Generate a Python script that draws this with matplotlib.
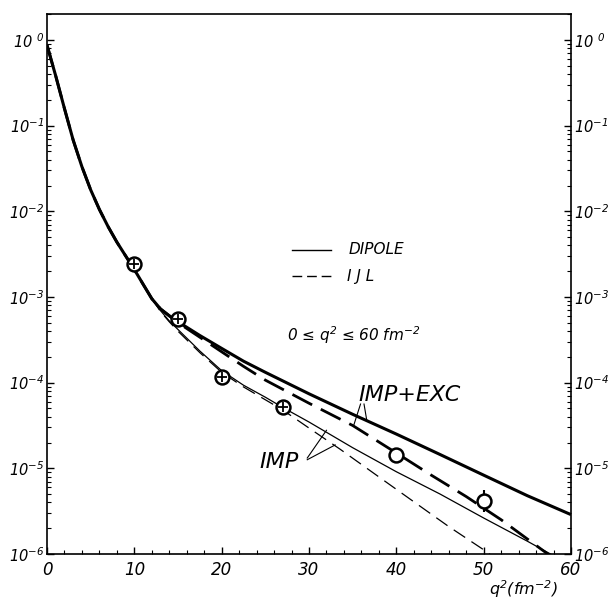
import numpy as np
import matplotlib
matplotlib.use('Agg')
import matplotlib.pyplot as plt
from matplotlib.ticker import FixedLocator, FuncFormatter, MultipleLocator

plt.rcParams['font.family'] = 'DejaVu Sans'
plt.rcParams['font.style'] = 'italic'
plt.rcParams['mathtext.fontset'] = 'custom'
plt.rcParams['mathtext.rm'] = 'DejaVu Sans:italic'
plt.rcParams['mathtext.it'] = 'DejaVu Sans:italic'
plt.rcParams['mathtext.default'] = 'rm'

# shared low-q part of all four curves
q2_common = [0, 0.5, 1, 2, 3, 4, 5, 6, 7, 8, 9, 10, 11, 12]
f_common = [0.871, 0.575, 0.380, 0.158, 0.0676, 0.0331, 0.0178, 0.0105,
            0.00661, 0.00437, 0.00302, 0.00209, 0.00141, 9.55e-4]

# DIPOLE, IMP+EXC (thick solid)
q2_dip_exc = [13, 14, 15, 17.5, 20, 22.5, 25, 30, 35, 40, 45, 50, 55, 60]
f_dip_exc = [7.24e-4, 6.03e-4, 5.13e-4, 3.55e-4, 2.51e-4, 1.78e-4, 1.32e-4,
             7.41e-5, 4.27e-5, 2.51e-5, 1.45e-5, 8.32e-6, 4.79e-6, 2.88e-6]

# IJL, IMP+EXC (thick dashed)
q2_ijl_exc = [13, 14, 15, 17.5, 20, 22.5, 25, 30, 35, 40, 44, 48, 52, 56, 58]
f_ijl_exc = [7.24e-4, 6.03e-4, 5.01e-4, 3.39e-4, 2.29e-4, 1.55e-4, 1.07e-4,
             5.75e-5, 3.16e-5, 1.51e-5, 8.32e-6, 4.68e-6, 2.51e-6, 1.26e-6, 8.9e-7]

# DIPOLE, IMP (thin solid)
q2_dip_imp = [13, 14, 15, 17.5, 20, 22.5, 25, 27, 30, 35, 40, 45, 50, 55, 58]
f_dip_imp = [6.92e-4, 5.25e-4, 4.17e-4, 2.34e-4, 1.38e-4, 9.33e-5, 6.76e-5,
             5.13e-5, 3.47e-5, 1.74e-5, 9.12e-6, 5.01e-6, 2.63e-6, 1.41e-6, 9.55e-7]

# IJL, IMP (thin dashed)
q2_ijl_imp = [13, 14, 15, 17.5, 20, 22.5, 25, 27, 30, 33.6, 38, 42, 46, 50, 52]
f_ijl_imp = [6.76e-4, 5.13e-4, 3.98e-4, 2.24e-4, 1.32e-4, 8.91e-5, 6.31e-5,
             4.79e-5, 2.95e-5, 1.66e-5, 7.94e-6, 4.07e-6, 2.09e-6, 1.12e-6, 7.94e-7]

# measured points
q2_cross = [10, 15, 20, 27]
f_cross = [2.45e-3, 5.5e-4, 1.17e-4, 5.2e-5]
q2_open = [40, 50]
f_open = [1.44e-5, 4.1e-6]
f_open_lo = [1.3e-5, 3.1e-6]
f_open_hi = [1.6e-5, 5.6e-6]

xticks = [0, 10, 20, 30, 40, 50, 60]
ydecades = [0, -1, -2, -3, -4, -5, -6]


def full(xs, ys):
    return np.array(q2_common + xs), np.array(f_common + ys)


def dec_label(v, p):
    d = int(round(np.log10(v)))
    if d == 0:
        return r'10 $^{0}$'
    return r'10$^{%d}$' % d


fig = plt.figure(figsize=(6.12, 6.03), dpi=100)
ax = fig.add_axes([0.0768, 0.0813, 0.8562, 0.8955])

x1, y1 = full(q2_dip_exc, f_dip_exc)
x2, y2 = full(q2_ijl_exc, f_ijl_exc)
x3, y3 = full(q2_dip_imp, f_dip_imp)
x4, y4 = full(q2_ijl_imp, f_ijl_imp)

ax.plot(x1, y1, color='black', lw=2.2, solid_capstyle='butt')
ax.plot(x2, y2, color='black', lw=2.0, dashes=(8, 3.5))
ax.plot(x3, y3, color='black', lw=0.9)
ax.plot(x4, y4, color='black', lw=0.9, dashes=(11, 6))

ax.plot(q2_cross, f_cross, 'o', ms=10, mfc='white', mec='black', mew=1.8, zorder=5)
ax.plot(q2_cross, f_cross, '+', ms=7, mec='black', mew=1.3, zorder=6)
yerr = [np.array(f_open) - np.array(f_open_lo), np.array(f_open_hi) - np.array(f_open)]
ax.errorbar(q2_open, f_open, yerr=yerr, fmt='o', ms=10, mfc='white', mec='black',
            mew=1.8, ecolor='black', elinewidth=1.5, capsize=0, zorder=5)

ax.set_yscale('log')
ax.set_xlim(0, 60)
ax.set_ylim(1e-6, 10 ** 0.303)

ax.xaxis.set_major_locator(FixedLocator(xticks))
ax.xaxis.set_minor_locator(MultipleLocator(2))
ax.set_xticklabels([str(t) for t in xticks])
ax.yaxis.set_major_locator(FixedLocator([10.0 ** d for d in ydecades]))
ax.yaxis.set_major_formatter(FuncFormatter(dec_label))
ax.tick_params(axis='both', which='both', direction='in')
ax.tick_params(axis='x', labelsize=12, pad=5)
ax.tick_params(axis='y', which='both', right=True, labelright=True,
               labelsize=10.5, pad=2)
ax.tick_params(which='major', length=5, width=1)
ax.tick_params(which='minor', length=3, width=0.8)
for s in ax.spines.values():
    s.set_linewidth(1.2)

ax.text(0.975, -0.045, r'q$^2$(fm$^{-2}$)', transform=ax.transAxes, ha='right',
        va='top', fontsize=11.5)

# legend drawn by hand like the original
ax.plot([28.0, 32.5], [10 ** -2.45, 10 ** -2.45], color='black', lw=1.0)
ax.text(34.5, 10 ** -2.45, 'DIPOLE', fontsize=11, va='center')
ax.plot([28.0, 32.5], [10 ** -2.76, 10 ** -2.76], color='black', lw=1.0, dashes=(7, 3.5))
ax.text(34.3, 10 ** -2.76, 'I J L', fontsize=11, va='center')
ax.text(27.5, 10 ** -3.45, r'0 ≤ q$^2$ ≤ 60 fm$^{-2}$', fontsize=11, va='center')

# curve labels with leader lines
ax.text(41.5, 10 ** -4.14, 'IMP+EXC', fontsize=16, ha='center', va='center')
ax.plot([35.9, 35.1], [10 ** -4.25, np.interp(35.1, x2, y2)], color='black', lw=0.8)
ax.plot([36.3, 36.6], [10 ** -4.25, np.interp(36.6, x1, y1)], color='black', lw=0.8)
ax.text(26.6, 10 ** -4.93, 'IMP', fontsize=16, ha='center', va='center')
ax.plot([29.8, 32.0], [10 ** -4.88, np.interp(32.0, x3, y3)], color='black', lw=0.8)
ax.plot([29.8, 33.0], [10 ** -4.90, np.interp(33.0, x4, y4)], color='black', lw=0.8)

fig.savefig('out.png', dpi=100)
